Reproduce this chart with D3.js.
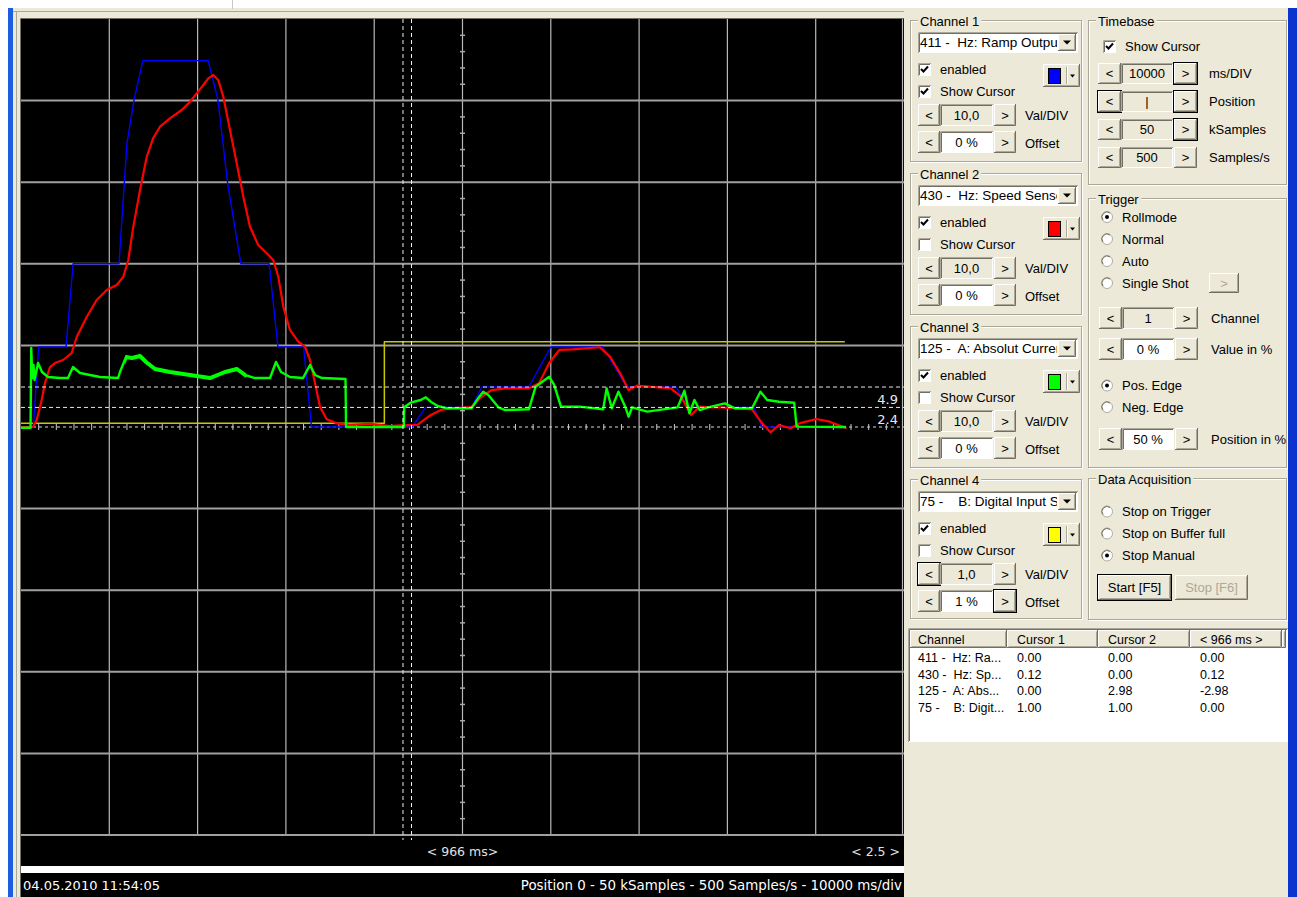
<!DOCTYPE html>
<html>
<head>
<meta charset="utf-8">
<script src="https://cdn.jsdelivr.net/npm/d3@7"></script>
<style>
  body { margin: 0; background: #fff; }
  svg text { font-family: "Liberation Sans", Arial, sans-serif; font-size: 13px; white-space: pre; }
  svg text.scope { font-family: "DejaVu Sans", sans-serif; font-size: 13px; }
</style>
</head>
<body>
<svg id="scope" width="1297" height="897"></svg>
<script>
// ---------- data (time in s, values in channel units) ----------
const ch1Points = [[0,0],[1.4,0],[2.0,9.8],[5.1,9.8],[5.9,20],[11.1,20],[11.7,29.9],[12.0,34.8],[12.8,40.1],[13.8,44.9],
  [21.2,44.9],[22.3,40.1],[23.4,29.9],[24.9,20],[28.1,20],[29.1,9.8],[32.0,9.8],[32.9,0],[44.3,0],[45.8,2.4],
  [51.0,2.4],[52.2,4.9],[57.5,4.9],[60.0,9.8],[65.9,9.8],[68.6,4.9],[74.2,4.9],[75.5,2.4],[83.0,2.4],[83.9,0],[93.4,0]];

const ch2Points = [[0,0],[1.36,0],[1.78,0.86],[2.34,3.31],[2.72,5.39],[3.28,7.35],[3.85,7.84],[4.76,8.21],[5.74,9.07],
  [6.31,11.03],[7.44,13.48],[8.57,15.56],[9.71,16.79],[10.84,17.4],[11.59,18.42],[12.15,20.47],[12.72,24.55],[13.48,29.04],
  [14.24,33.12],[14.98,35.42],[15.74,36.8],[16.87,37.83],[18.2,38.85],[19.14,39.86],[19.9,40.89],[20.65,41.91],[21.21,42.73],
  [21.78,43.14],[22.34,42.52],[22.91,40.48],[23.67,36.4],[24.43,32.32],[25.18,28.22],[25.93,24.55],[26.87,22.3],[27.83,21.29],
  [28.57,20.47],[29.14,18.42],[29.71,14.74],[30.46,11.89],[31.4,10.45],[32.16,9.84],[32.73,8.21],[33.3,5.36],[33.86,2.49],
  [34.62,0.94],[35.75,0.45],[37.26,0.25],[39.5,0.4],[41.8,0.1],[42.9,0.2],[44.88,0.25],[45.65,0.86],[46.41,1.47],[47.56,2.08],
  [48.71,2.29],[51.01,2.45],[52.15,3.71],[53.31,4.53],[54.84,4.74],[57.52,4.74],[58.67,5.36],[59.81,7.81],[60.96,9.44],
  [62.49,9.52],[65.55,9.77],[66.7,8.62],[67.85,6.58],[68.81,4.53],[69.76,5.06],[73.59,4.74],[74.75,3.71],[75.89,1.47],
  [76.85,2.49],[78.19,2.41],[79.33,2.41],[82.79,2.17],[83.93,0.45],[84.88,-0.65],[85.84,0.25],[87.18,-0.16],[88.14,0.45],
  [90.06,0.98],[91.58,0.65],[93.5,-0.16]];

const ch3Points = [[0,-0.1],[1.08,-0.1],[1.16,9.68],[1.28,6.0],[1.42,7.6],[1.53,5.76],[1.93,7.84],[2.38,6.74],[3.06,6.13],
  [4.42,6.0],[5.32,6.0],[5.89,7.35],[6.68,6.62],[8.95,6.13],[10.99,6.0],[11.21,6.74],[11.89,8.58],[12.57,8.46],[13.48,8.7],
  [14.16,7.97],[15.18,7.11],[16.87,6.74],[19.14,6.37],[21.4,6.0],[23.1,6.74],[24.46,7.11],[25.37,6.37],[26.5,6.0],[28.2,6.0],
  [28.88,7.97],[29.45,6.74],[30.46,6.13],[31.94,6.0],[32.73,7.6],[33.3,6.37],[34.09,6.0],[36.75,5.88],[36.81,0],[43.35,0],
  [43.4,2.41],[44.12,2.98],[45.27,3.31],[45.84,3.64],[46.41,3.1],[47.18,2.57],[48.32,2.29],[51.01,2.29],[51.78,3.52],
  [52.34,4.33],[52.92,3.92],[54.07,2.41],[54.84,2.08],[57.52,2.17],[58.28,4.94],[59.81,6.16],[60.38,5.15],[61.15,2.49],
  [63.26,2.49],[65.93,2.17],[66.32,4.74],[66.9,2.29],[67.66,4.33],[68.43,2.49],[68.81,1.26],[69.2,2.41],[70.92,1.88],
  [74.36,2.41],[75.13,4.45],[75.7,1.68],[76.27,3.31],[76.85,2.08],[77.8,2.41],[79.72,2.9],[80.86,2.29],[82.79,2.29],
  [83.74,4.33],[84.51,3.31],[85.84,3.1],[87.56,2.98],[87.84,0.04],[93.43,0]];
// stretch of the current trace where the signal is noisy (drawn thicker)
const ch3NoisyRange = [11.8, 25.5];

const ch4Points = [[0,0],[41.15,0],[41.15,1],[93.3,1]];

const cursorTimes = [43.26, 44.226];
const cursorLevels = [4.9, 2.4];

const channelTitles = ["Channel 1", "Channel 2", "Channel 3", "Channel 4"];
const channelSignals = ["411 -  Hz: Ramp Output", "430 -  Hz: Speed Sensor", "125 -  A: Absolut Current", "75 -    B: Digital Input State"];
const channelEnabled = [true, true, true, true];
const channelShowCursor = [true, false, false, false];
const channelValDiv = [10, 10, 10, 1];
const channelValDivText = ["10,0", "10,0", "10,0", "1,0"];
const channelOffsetText = ["0 %", "0 %", "0 %", "1 %"];
const swatchColors = ["#0000ff", "#ff0000", "#00ff00", "#ffff00"];
const traceColors = ["#0000ff", "#ff0000", "#00ff00", "#c8c800"];

const timebaseLabels = ["ms/DIV", "Position", "kSamples", "Samples/s"];
const timebaseValues = ["10000", "|", "50", "500"];
const triggerModes = ["Rollmode", "Normal", "Auto", "Single Shot"];
const edgeModes = ["Pos. Edge", "Neg. Edge"];
const acqModes = ["Stop on Trigger", "Stop on Buffer full", "Stop Manual"];

const tableHeader = ["Channel", "Cursor 1", "Cursor 2", "< 966 ms >"];
const tableRows = [
  ["411 -  Hz: Ra...", "0.00", "0.00", "0.00"],
  ["430 -  Hz: Sp...", "0.12", "0.00", "0.12"],
  ["125 -  A: Abs...", "0.00", "2.98", "-2.98"],
  ["75 -    B: Digit...", "1.00", "1.00", "0.00"]
];

const statusLeft = "04.05.2010 11:54:05";
const statusRight = "Position 0 - 50 kSamples - 500 Samples/s - 10000 ms/div";

// ---------- frame ----------
const svg = d3.select('#scope');
const face = '#ece9d8';

svg.append('rect').attr('width', 1297).attr('height', 897).attr('fill', '#fff');
svg.append('rect').attr('x', 8).attr('y', 8).attr('width', 1289).attr('height', 889).attr('fill', face);
svg.append('rect').attr('x', 8).attr('y', 8).attr('width', 5).attr('height', 889).attr('fill', '#1d5de0');
svg.append('rect').attr('x', 1288).attr('y', 8).attr('width', 9).attr('height', 889).attr('fill', '#0b34cf');
svg.append('line').attr('x1', 13).attr('x2', 904).attr('y1', 11.5).attr('y2', 11.5).attr('stroke', '#aca899');
svg.append('line').attr('x1', 16.5).attr('x2', 16.5).attr('y1', 12).attr('y2', 897).attr('stroke', '#aca899');
svg.append('line').attr('x1', 20.5).attr('x2', 904).attr('y1', 18.5).attr('y2', 18.5).attr('stroke', '#716f64');
svg.append('line').attr('x1', 20.5).attr('x2', 20.5).attr('y1', 18.5).attr('y2', 897).attr('stroke', '#716f64');
svg.append('line').attr('x1', 232.5).attr('x2', 232.5).attr('y1', 0).attr('y2', 9).attr('stroke', '#c8c8c8');

// ---------- scope ----------
const x = d3.scaleLinear().domain([0, 100]).range([21, 904]);
const yDiv = d3.scaleLinear().domain([-5, 5]).range([835, 19]);
const chOffsetDiv = [0, 0, 0, 0.045];
const yFor = i => (v => yDiv(v / channelValDiv[i] + chOffsetDiv[i]));

const defs = svg.append('defs');
const scope = svg.append('g');
scope.append('rect').attr('x', 21).attr('y', 19).attr('width', 883).attr('height', 847).attr('fill', '#000');
scope.append('rect').attr('x', 21).attr('y', 866).attr('width', 883).attr('height', 7).attr('fill', '#fff');
scope.append('rect').attr('x', 21).attr('y', 873).attr('width', 883).attr('height', 24).attr('fill', '#000');

// grid
scope.append('g').selectAll('line')
  .data(d3.range(1, 11))
  .join('line')
  .attr('x1', d => Math.min(x(d * 10), 902.5)).attr('x2', d => Math.min(x(d * 10), 902.5))
  .attr('y1', 19).attr('y2', 836)
  .attr('stroke', '#b8b8b8').attr('stroke-width', 1.2);

scope.append('g').selectAll('line')
  .data(d3.range(-4, 6).filter(d => d !== 0))
  .join('line')
  .attr('x1', 21).attr('x2', 904)
  .attr('y1', d => yDiv(-d)).attr('y2', d => yDiv(-d))
  .attr('stroke', '#a0a0a0').attr('stroke-width', 2);

// center line minor ticks
scope.append('g').selectAll('line')
  .data(d3.range(-25, 26).filter(k => k % 5 !== 0))
  .join('line')
  .attr('x1', x(50) - 2.5).attr('x2', x(50) + 2.5)
  .attr('y1', k => yDiv(k / 5)).attr('y2', k => yDiv(k / 5))
  .attr('stroke', '#a8a8a8').attr('stroke-width', 1.5);

// zero line, dashed, with ticks
scope.append('line')
  .attr('x1', 21).attr('x2', 904).attr('y1', yDiv(0)).attr('y2', yDiv(0))
  .attr('stroke', '#d6d6f0').attr('stroke-width', 1).attr('stroke-dasharray', '3,3');
scope.append('g').selectAll('line')
  .data(d3.range(1, 50).filter(k => k % 5 !== 0))
  .join('line')
  .attr('x1', k => x(k * 2)).attr('x2', k => x(k * 2))
  .attr('y1', yDiv(0) - 3).attr('y2', yDiv(0) + 3)
  .attr('stroke', '#c8c8c8').attr('stroke-width', 1);

// traces
const line = i => d3.line().x(d => x(d[0])).y(d => yFor(i)(d[1]));
const traces = [ch1Points, ch2Points, ch3Points, ch4Points];
const traceWidth = [1.4, 2.2, 2.4, 1.5];
[3, 0, 1, 2].forEach(i => {
  scope.append('path')
    .datum(traces[i])
    .attr('d', line(i))
    .attr('fill', 'none')
    .attr('stroke', traceColors[i])
    .attr('stroke-width', traceWidth[i])
    .attr('stroke-linejoin', 'round');
});
// noisy part of the current drawn as a wider band
defs.append('clipPath').attr('id', 'noisyClip')
  .append('rect')
  .attr('x', x(ch3NoisyRange[0])).attr('width', x(ch3NoisyRange[1]) - x(ch3NoisyRange[0]))
  .attr('y', 19).attr('height', 816);
scope.append('path')
  .datum(ch3Points)
  .attr('d', line(2))
  .attr('clip-path', 'url(#noisyClip)')
  .attr('fill', 'none')
  .attr('stroke', traceColors[2])
  .attr('stroke-width', 4)
  .attr('stroke-linejoin', 'round');

// cursors
scope.append('g').selectAll('line')
  .data(cursorLevels)
  .join('line')
  .attr('x1', 21).attr('x2', 904)
  .attr('y1', d => yFor(0)(d)).attr('y2', d => yFor(0)(d))
  .attr('stroke', '#e8e8e8').attr('stroke-width', 1).attr('stroke-dasharray', '4,3');
scope.append('g').selectAll('text')
  .data(cursorLevels)
  .join('text')
  .attr('class', 'scope')
  .attr('x', 898).attr('y', d => yFor(0)(d) + 12).attr('dy', '0.35em')
  .attr('text-anchor', 'end').attr('fill', '#e8e8e8')
  .text(d => d.toFixed(1));
scope.append('g').selectAll('line')
  .data(cursorTimes)
  .join('line')
  .attr('x1', d => x(d)).attr('x2', d => x(d))
  .attr('y1', 19).attr('y2', 840)
  .attr('stroke', '#f0f0f0').attr('stroke-width', 1).attr('stroke-dasharray', '4,3');

scope.append('text').attr('class', 'scope')
  .attr('x', x(50)).attr('y', 852).attr('dy', '0.35em').attr('text-anchor', 'middle')
  .attr('fill', '#e0e0e0').style('font-size', '12.5px')
  .text('< ' + Math.round((cursorTimes[1] - cursorTimes[0]) * 1000) + ' ms>');
scope.append('text').attr('class', 'scope')
  .attr('x', 900).attr('y', 852).attr('dy', '0.35em').attr('text-anchor', 'end')
  .attr('fill', '#e0e0e0').style('font-size', '12.5px')
  .text('< 2.5 >');
scope.append('text').attr('class', 'scope')
  .attr('x', 23).attr('y', 885).attr('dy', '0.35em').attr('fill', '#fff')
  .text(statusLeft);
scope.append('text').attr('class', 'scope')
  .attr('x', 902).attr('y', 885).attr('dy', '0.35em').attr('text-anchor', 'end').attr('fill', '#fff')
  .style('font-size', '13.4px')
  .text(statusRight);

// ---------- control panel helpers ----------
const panel = svg.append('g');

function raised(x0, y0, w, h, bold) {
  const g = panel.append('g');
  g.append('rect').attr('x', x0).attr('y', y0).attr('width', w).attr('height', h).attr('fill', face);
  g.append('path').attr('d', `M${x0 + 0.5},${y0 + h - 1}V${y0 + 0.5}H${x0 + w - 1}`).attr('stroke', '#fff').attr('fill', 'none');
  g.append('path').attr('d', `M${x0 + 1.5},${y0 + h - 1.5}H${x0 + w - 1.5}V${y0 + 1.5}`).attr('stroke', '#aca899').attr('fill', 'none');
  g.append('path').attr('d', `M${x0},${y0 + h - 0.5}H${x0 + w - 0.5}V${y0}`).attr('stroke', '#716f64').attr('fill', 'none');
  if (bold) {
    g.append('rect').attr('x', x0 - 0.5).attr('y', y0 - 0.5).attr('width', w + 1).attr('height', h + 1)
      .attr('fill', 'none').attr('stroke', '#000');
  }
  return g;
}

function sunken(x0, y0, w, h, fill) {
  const g = panel.append('g');
  g.append('rect').attr('x', x0).attr('y', y0).attr('width', w).attr('height', h).attr('fill', fill);
  g.append('path').attr('d', `M${x0 + 0.5},${y0 + h}V${y0 + 0.5}H${x0 + w}`).attr('stroke', '#aca899').attr('fill', 'none');
  g.append('path').attr('d', `M${x0 + 1.5},${y0 + h - 1}V${y0 + 1.5}H${x0 + w - 1}`).attr('stroke', '#716f64').attr('fill', 'none');
  g.append('path').attr('d', `M${x0 + 1},${y0 + h - 0.5}H${x0 + w - 0.5}V${y0 + 1}`).attr('stroke', '#fff').attr('fill', 'none');
  return g;
}

function label(x0, y0, str, anchor, color) {
  return panel.append('text').attr('x', x0).attr('y', y0).attr('dy', '0.35em')
    .attr('text-anchor', anchor || 'start').attr('fill', color || '#000').text(str);
}

function groupBox(x0, y0, w, h, title) {
  panel.append('rect').attr('x', x0 + 1.5).attr('y', y0 + 1.5).attr('width', w - 2).attr('height', h - 2)
    .attr('fill', 'none').attr('stroke', '#fff');
  panel.append('rect').attr('x', x0 + 0.5).attr('y', y0 + 0.5).attr('width', w - 2).attr('height', h - 2)
    .attr('fill', 'none').attr('stroke', '#aca899');
  const bg = panel.append('rect').attr('fill', face);
  const t = label(x0 + 10, y0 + 1, title);
  const bb = t.node().getBBox();
  bg.attr('x', bb.x - 2).attr('y', y0 - 4).attr('width', bb.width + 4).attr('height', 8);
}

function checkbox(x0, y0, checked, str) {
  sunken(x0, y0, 13, 13, '#fff');
  if (checked) {
    panel.append('path').attr('d', `M${x0 + 3},${y0 + 6}l2.5,2.5l4.5,-5`)
      .attr('fill', 'none').attr('stroke', '#000').attr('stroke-width', 2);
  }
  label(x0 + 22, y0 + 6.5, str);
}

function radio(cx, cy, selected, str) {
  panel.append('circle').attr('cx', cx).attr('cy', cy).attr('r', 5.5).attr('fill', '#fff').attr('stroke', '#b0ad9e');
  panel.append('path').attr('d', `M${cx - 4},${cy + 3}A5,5 0 0 1 ${cx + 3},${cy - 4}`)
    .attr('fill', 'none').attr('stroke', '#716f64');
  if (selected) panel.append('circle').attr('cx', cx).attr('cy', cy).attr('r', 2).attr('fill', '#000');
  label(cx + 15, cy, str);
}

function spinner(o) {
  raised(o.x, o.y, o.lw, o.h, o.boldL);
  label(o.x + o.lw / 2, o.y + o.h / 2, '<', 'middle');
  sunken(o.x + o.lw, o.y, o.fw, o.h, o.white ? '#fff' : face);
  label(o.x + o.lw + o.fw / 2, o.y + o.h / 2, o.value, 'middle');
  const rx = o.x + o.lw + o.fw + 1;
  raised(rx, o.y, o.rw, o.h, o.boldR);
  label(rx + o.rw / 2, o.y + o.h / 2, '>', 'middle');
  label(o.labelX, o.y + o.h / 2 + (o.labelDy || 0), o.text);
}

// ---------- channel boxes ----------
channelTitles.forEach((title, i) => {
  const y0 = 20 + 153 * i;
  groupBox(910, y0, 173, i === 3 ? 141 : 143, title);

  // signal drop-down
  sunken(918, y0 + 12, 160, 21, '#fff');
  defs.append('clipPath').attr('id', 'clipSig' + i)
    .append('rect').attr('x', 919).attr('y', y0 + 13).attr('width', 138).attr('height', 19);
  label(920, y0 + 22.5, channelSignals[i]).style('font-size', '13.5px').attr('clip-path', `url(#clipSig${i})`);
  raised(1058, y0 + 14, 18, 17);
  panel.append('path').attr('d', `M${1063},${y0 + 20.5}h8l-4,4z`).attr('fill', '#000');

  checkbox(918, y0 + 43, channelEnabled[i], 'enabled');
  checkbox(918, y0 + 65, channelShowCursor[i], 'Show Cursor');

  // colour picker
  raised(1043, y0 + 44, 37, 23);
  panel.append('rect').attr('x', 1048.5).attr('y', y0 + 48.5).attr('width', 12).attr('height', 15)
    .attr('fill', swatchColors[i]).attr('stroke', '#000');
  panel.append('line').attr('x1', 1066.5).attr('x2', 1066.5).attr('y1', y0 + 47).attr('y2', y0 + 64).attr('stroke', '#aca899');
  panel.append('line').attr('x1', 1067.5).attr('x2', 1067.5).attr('y1', y0 + 47).attr('y2', y0 + 64).attr('stroke', '#fff');
  panel.append('path').attr('d', `M${1070},${y0 + 54.5}h5l-2.5,3z`).attr('fill', '#000');

  spinner({ x: 918, y: y0 + 84, lw: 22, fw: 53, rw: 22, h: 22, value: channelValDivText[i],
    text: 'Val/DIV', labelX: 1025, white: false, boldL: i === 3 });
  spinner({ x: 918, y: y0 + 111, lw: 22, fw: 53, rw: 22, h: 22, value: channelOffsetText[i],
    text: 'Offset', labelX: 1025, labelDy: 1, white: true, boldR: i === 3 });
});

// ---------- timebase ----------
groupBox(1088, 20, 200, 166, 'Timebase');
checkbox(1103, 40, true, 'Show Cursor');
timebaseLabels.forEach((t, i) => {
  spinner({ x: 1098, y: 63 + 28 * i, lw: 23, fw: 52, rw: 23, h: 21, value: timebaseValues[i],
    text: t, labelX: 1209, white: false, boldL: i === 1, boldR: i <= 2 });
});

// ---------- trigger ----------
groupBox(1088, 198, 200, 271, 'Trigger');
triggerModes.forEach((m, i) => radio(1107, 217 + 22 * i, i === 0, m));
raised(1209, 273, 30, 20);
label(1224, 283, '>', 'middle', '#aca899');
spinner({ x: 1099, y: 307, lw: 23, fw: 52, rw: 23, h: 22, value: '1', text: 'Channel', labelX: 1211, white: false });
spinner({ x: 1099, y: 338, lw: 23, fw: 52, rw: 23, h: 22, value: '0 %', text: 'Value in %', labelX: 1211, white: true });
edgeModes.forEach((m, i) => radio(1107, 385.5 + 21.5 * i, i === 0, m));
spinner({ x: 1099, y: 428, lw: 23, fw: 52, rw: 23, h: 22, value: '50 %', text: 'Position in %', labelX: 1211, white: true });

// ---------- data acquisition ----------
groupBox(1088, 478, 200, 143, 'Data Acquisition');
acqModes.forEach((m, i) => radio(1107, 511.5 + 22 * i, i === 2, m));
raised(1098, 575, 73, 25, true);
label(1134.5, 587.5, 'Start [F5]', 'middle');
raised(1175, 575, 73, 25);
label(1211.5, 587.5, 'Stop [F6]', 'middle', '#aca899');

// ---------- cursor table ----------
sunken(908, 628, 380, 114, '#fff');
const colX = [910, 1007, 1098, 1190, 1282];
tableHeader.forEach((h, i) => {
  raised(colX[i], 630, colX[i + 1] - colX[i], 18);
  label(colX[i] + (i === 0 ? 8 : 10), 639.5, h).style('font-size', '12.5px');
});
raised(1282, 630, 4, 18);
tableRows.forEach((row, r) => {
  row.forEach((cell, c) => {
    label(colX[c] + (c === 0 ? 8 : 10), 657.5 + 16.8 * r, cell).style('font-size', '12.5px');
  });
});
</script>
</body>
</html>
